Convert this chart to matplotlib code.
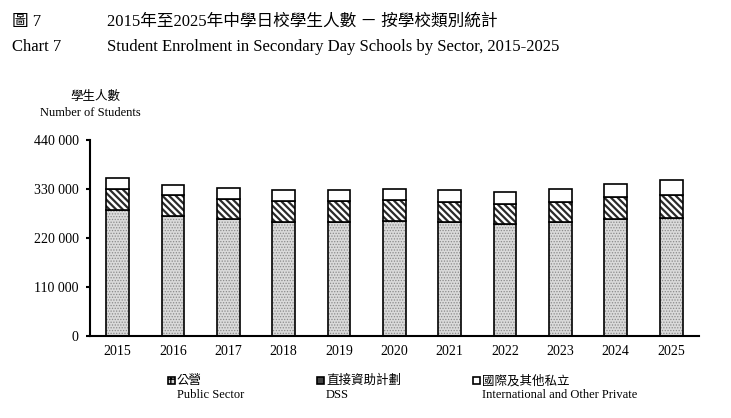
import matplotlib
matplotlib.use("Agg")
import matplotlib.pyplot as plt
from matplotlib.patches import Rectangle
from matplotlib.ticker import FuncFormatter
import numpy as np

# data
years = ["2015", "2016", "2017", "2018", "2019", "2020", "2021", "2022", "2023", "2024", "2025"]
public = [282700, 269100, 262400, 255600, 256300, 257900, 255600, 251800, 254700, 262400, 265300]
dss = [48100, 47400, 45800, 47400, 47400, 47400, 45200, 44400, 46100, 48800, 51900]
private = [24200, 23300, 24200, 24000, 24800, 24800, 26200, 26200, 28400, 30900, 32300]
yticks = [0, 110000, 220000, 330000, 440000]

plt.rcParams['font.family'] = ['Liberation Serif', 'Noto Sans CJK TC']

###########################################################################
def fmt(v, pos):
    return "{:,}".format(int(v)).replace(",", " ")

fig = plt.figure(figsize=(7.31, 4.18), dpi=100)
ax = fig.add_axes([0.123, 0.197, 0.833, 0.468])

x = np.arange(len(years))
w = 0.41
pub = np.array(public)
ds = np.array(dss)

# public sector: fine grey dots
bars = ax.bar(x, pub, w, color='#dadada', edgecolor='#8a8a8a', linewidth=0, hatch='......')
for b in bars:
    b.set_hatch_linewidth(0.6)
ax.bar(x, pub, w, fill=False, edgecolor='black', linewidth=1.2)

# DSS: dark diagonal stripes
bars = ax.bar(x, ds, w, bottom=pub, color='white', edgecolor='#2a2a2a', linewidth=0, hatch='\\' * 5)
for b in bars:
    b.set_hatch_linewidth(1.6)
ax.bar(x, ds, w, bottom=pub, fill=False, edgecolor='black', linewidth=1.2)

# international and other private: plain white
ax.bar(x, private, w, bottom=pub + ds, color='white', edgecolor='black', linewidth=1.2)

ax.set_xlim(-0.5, 10.5)
ax.set_ylim(0, 440000)
ax.set_xticks(x)
ax.set_xticklabels(years, fontsize=10)
ax.set_yticks(yticks)
ax.yaxis.set_major_formatter(FuncFormatter(fmt))
ax.tick_params(axis='y', length=3, width=1.5, pad=5, labelsize=10)
ax.tick_params(axis='x', length=0, pad=7)
for s in ['top', 'right']:
    ax.spines[s].set_visible(False)
ax.spines['left'].set_linewidth(1.5)
ax.spines['bottom'].set_linewidth(1.5)

# titles
fig.text(12/731, 1 - 22/418, "圖 7", fontsize=12, va='center')
fig.text(12/731, 1 - 47/418, "Chart 7", fontsize=12, va='center')
fig.text(107/731, 1 - 22/418, "2015年至2025年中學日校學生人數 － 按學校類別統計", fontsize=12, va='center')
fig.text(107/731, 1 - 47/418, "Student Enrolment in Secondary Day Schools by Sector, 2015-2025", fontsize=12, va='center')

# y label
fig.text(95/731, 1 - 97/418, "學生人數", fontsize=9, ha='center', va='center')
fig.text(90/731, 1 - 113/418, "Number of Students", fontsize=9, ha='center', va='center')

# legend
items = [(168, "公營", "Public Sector", '#d4d4d4', '++'),
         (317, "直接資助計劃", "DSS", '#444444', None),
         (473, "國際及其他私立", "International and Other Private", 'white', None)]
for px, zh, en, fc, h in items:
    fig.add_artist(Rectangle((px/731, 1 - 384/418), 7/731, 7/418, transform=fig.transFigure,
                             facecolor=fc, edgecolor='black', linewidth=1.2, hatch=h))
    fig.text((px + 9)/731, 1 - 381/418, zh, fontsize=9, va='center')
    fig.text((px + 9)/731, 1 - 395/418, en, fontsize=9, va='center')

fig.savefig("out.png", dpi=100)
